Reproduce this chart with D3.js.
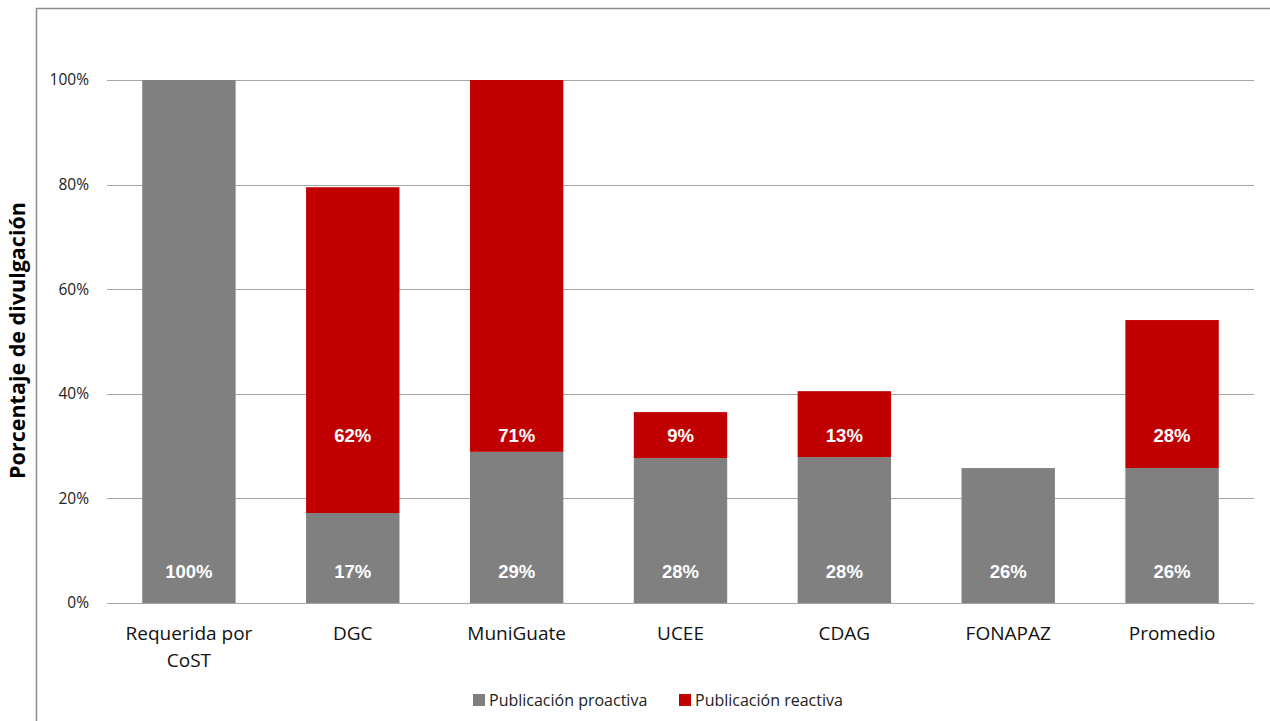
<!DOCTYPE html>
<meta charset="utf-8">
<head>
<style>
body { margin: 0; background: #fff; }
</style>
<script src="https://d3js.org/d3.v7.min.js"></script>
</head>
<body>
<div id="chart"></div>
<script>

// data
var categories = ["Requerida por CoST", "DGC", "MuniGuate", "UCEE", "CDAG", "FONAPAZ", "Promedio"];
var proactiva = [100, 17.2, 28.9, 27.7, 27.9, 25.8, 25.8];
var reactiva  = [0, 62.3, 71.1, 8.8, 12.6, 0, 28.3];
var proLabels = ["100%", "17%", "29%", "28%", "28%", "26%", "26%"];
var reaLabels = ["", "62%", "71%", "9%", "13%", "", "28%"];
var yTicks = [0, 20, 40, 60, 80, 100];
var seriesNames = ["Publicación proactiva", "Publicación reactiva"];
var colors = ["#808080", "#C00000"];

var W = 1270, H = 721;
var margin = {top: 80, right: 16, bottom: 118, left: 107},
    width = W - margin.left - margin.right,
    height = H - margin.top - margin.bottom;

var svg = d3.select("#chart").append("svg")
  .attr("width", W)
  .attr("height", H);

// chart frame (runs off the right and bottom edges)
svg.append("path")
  .attr("d", "M36.5," + (H + 5) + " V8.5 H" + (W + 5))
  .attr("fill", "none")
  .attr("stroke", "#8c8c8c")
  .attr("stroke-width", 1.5);

var g = svg.append("g")
  .attr("transform", "translate(" + margin.left + "," + margin.top + ")");

var x = d3.scaleBand()
  .domain(categories)
  .range([0, width])
  .paddingInner(0.43)
  .paddingOuter(0.215);

var y = d3.scaleLinear()
  .domain([0, 100])
  .range([height, 0]);

// gridlines
g.selectAll(".grid")
  .data(yTicks)
  .enter()
  .append("line")
    .attr("x1", 0)
    .attr("x2", width)
    .attr("y1", function(d) { return Math.round(y(d)) + 0.5; })
    .attr("y2", function(d) { return Math.round(y(d)) + 0.5; })
    .attr("stroke", "#a6a6a6")
    .attr("stroke-width", 1.2);

// y tick labels
g.selectAll(".ytick")
  .data(yTicks)
  .enter()
  .append("text")
    .attr("x", -18)
    .attr("y", function(d) { return y(d); })
    .attr("dy", "0.35em")
    .attr("text-anchor", "end")
    .style("font-family", "'Open Sans', sans-serif")
    .style("font-size", "15.5px")
    .style("fill", "#222")
    .text(function(d) { return d + "%"; });

// stacked bars
var rows = categories.map(function(c, i) {
  return {cat: c, pro: proactiva[i], rea: reactiva[i], proL: proLabels[i], reaL: reaLabels[i]};
});

g.selectAll(".pro")
  .data(rows)
  .enter()
  .append("rect")
    .attr("x", function(d) { return x(d.cat); })
    .attr("width", x.bandwidth())
    .attr("y", function(d) { return y(d.pro); })
    .attr("height", function(d) { return y(0) - y(d.pro); })
    .attr("fill", colors[0]);

g.selectAll(".rea")
  .data(rows.filter(function(d) { return d.rea > 0; }))
  .enter()
  .append("rect")
    .attr("x", function(d) { return x(d.cat); })
    .attr("width", x.bandwidth())
    .attr("y", function(d) { return y(d.pro + d.rea); })
    .attr("height", function(d) { return y(d.pro) - y(d.pro + d.rea); })
    .attr("fill", colors[1]);

// value labels
var labelFont = "'Liberation Sans', Arial, sans-serif";
g.selectAll(".proLabel")
  .data(rows)
  .enter()
  .append("text")
    .attr("x", function(d) { return x(d.cat) + x.bandwidth() / 2; })
    .attr("y", y(6.1))
    .attr("dy", "0.35em")
    .attr("text-anchor", "middle")
    .style("font-family", labelFont)
    .style("font-weight", "bold")
    .style("font-size", "18.5px")
    .style("fill", "#fff")
    .text(function(d) { return d.proL; });

g.selectAll(".reaLabel")
  .data(rows.filter(function(d) { return d.reaL; }))
  .enter()
  .append("text")
    .attr("x", function(d) { return x(d.cat) + x.bandwidth() / 2; })
    .attr("y", y(32.1))
    .attr("dy", "0.35em")
    .attr("text-anchor", "middle")
    .style("font-family", labelFont)
    .style("font-weight", "bold")
    .style("font-size", "18.5px")
    .style("fill", "#fff")
    .text(function(d) { return d.reaL; });

// category labels (wrap "Requerida por CoST")
var catText = g.selectAll(".cat")
  .data(categories)
  .enter()
  .append("text")
    .attr("x", function(d) { return x(d) + x.bandwidth() / 2; })
    .attr("y", height + 37)
    .attr("text-anchor", "middle")
    .style("font-family", "'Open Sans', sans-serif")
    .style("font-size", "19px")
    .style("fill", "#111");

catText.each(function(d) {
  var lines = d === "Requerida por CoST" ? ["Requerida por", "CoST"] : [d];
  var t = d3.select(this);
  lines.forEach(function(l, i) {
    t.append("tspan")
      .attr("x", x(d) + x.bandwidth() / 2)
      .attr("dy", i === 0 ? 0 : 27)
      .text(l);
  });
});

// y axis title
svg.append("text")
  .attr("transform", "translate(25," + (margin.top + height / 2 - 1) + ") rotate(-90)")
  .attr("text-anchor", "middle")
  .style("font-family", "'Open Sans', sans-serif")
  .style("font-weight", "bold")
  .style("font-size", "21.5px")
  .style("fill", "#000")
  .text("Porcentaje de divulgación");

// legend
var legendX = [473, 679];
var legend = svg.selectAll(".legend")
  .data(seriesNames)
  .enter()
  .append("g")
    .attr("transform", function(d, i) { return "translate(" + legendX[i] + ",694)"; });

legend.append("rect")
  .attr("width", 12)
  .attr("height", 12)
  .attr("fill", function(d, i) { return colors[i]; });

legend.append("text")
  .attr("x", 16)
  .attr("y", 6)
  .attr("dy", "0.35em")
  .style("font-family", "'Open Sans', sans-serif")
  .style("font-size", "16px")
  .style("fill", "#222")
  .text(function(d) { return d; });

</script>
</body>
